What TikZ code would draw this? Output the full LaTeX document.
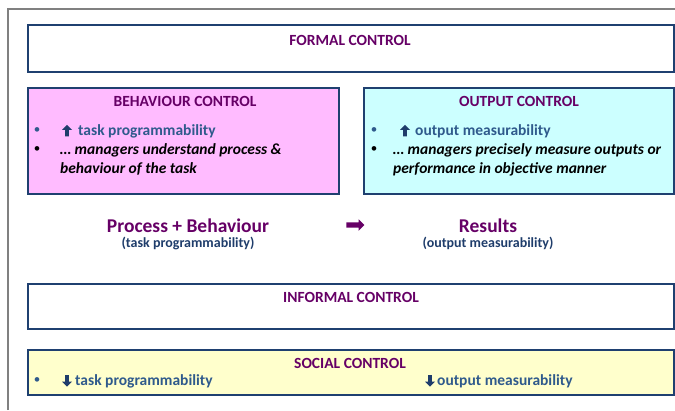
\documentclass[tikz,border=0pt]{standalone}
\usepackage{fontspec}
\usetikzlibrary{shapes.arrows}
\setmainfont{Carlito}
\definecolor{ttl}{HTML}{660066}
\definecolor{bln}{HTML}{2F5A8C}
\definecolor{dbl}{HTML}{1F3D6B}
\definecolor{bord}{HTML}{1F4070}
\definecolor{pinkf}{HTML}{FFBBFF}
\definecolor{cyanf}{HTML}{CCFFFF}
\definecolor{yelf}{HTML}{FFFFCC}
\begin{document}
\begin{tikzpicture}[x=1pt,y=-1pt,
  box/.style={draw=bord,line width=1.6pt,rectangle,anchor=north west,inner sep=0pt},
  title/.style={font=\bfseries\fontsize{15.5}{18}\selectfont,text=ttl,inner sep=0pt},
  bul/.style={font=\fontsize{13}{15}\selectfont,inner sep=0pt,anchor=center},
  bluetxt/.style={font=\bfseries\fontsize{15.5}{18}\selectfont,text=bln,inner sep=0pt,anchor=west},
  ittxt/.style={font=\bfseries\itshape\fontsize{15.5}{18}\selectfont,inner sep=0pt,anchor=west},
  uparr/.style={single arrow,fill=dbl,draw=none,inner sep=1.7pt,minimum height=11.5pt,minimum width=10pt,single arrow head extend=3pt,rotate=90},
  dnarr/.style={uparr,rotate=180},
  midarr/.style={single arrow,fill=ttl,draw=none,inner sep=2.2pt,minimum height=18pt,minimum width=11.5pt,single arrow head extend=3pt},
  big/.style={font=\bfseries\fontsize{19.5}{23}\selectfont,text=ttl,inner sep=0pt},
  small/.style={font=\bfseries\fontsize{14}{16}\selectfont,text=dbl,inner sep=0pt}]
\useasboundingbox (0,0) rectangle (675,410);
\draw[gray,line width=1.5pt] (8,410) -- (8,9) -- (676,9);
% boxes
\node[box,minimum width=646pt,minimum height=47pt] (formal) at (27,24) {};
\node[box,fill=pinkf,minimum width=311pt,minimum height=106pt] (behav) at (27,87) {};
\node[box,fill=cyanf,minimum width=310pt,minimum height=106pt] (output) at (363,87) {};
\node[box,minimum width=646pt,minimum height=45pt] (informal) at (27,283) {};
\node[box,fill=yelf,minimum width=646pt,minimum height=45pt] (social) at (27,349) {};
% titles
\node[title] (tformal) at (350,40) {FORMAL CONTROL};
\node[title] (tbehav) at (185,101) {BEHAVIOUR CONTROL};
\node[title] (toutput) at (519,101) {OUTPUT CONTROL};
\node[title] (tinformal) at (351,297) {INFORMAL CONTROL};
\node[title] (tsocial) at (350,363) {SOCIAL CONTROL};
% behaviour bullets
\node[bul,text=bln] (b1) at (37,131) {•};
\node[uparr] (b1a) at (67,131.5) {};
\node[bluetxt] (b1t) at (78,131) {task programmability};
\node[bul] (b2) at (37,150) {•};
\node[ittxt] (b2t) at (60,150) {… managers understand process \&};
\node[ittxt] (b3t) at (60,169) {behaviour of the task};
% output bullets
\node[bul,text=bln] (o1) at (374,131) {•};
\node[uparr] (o1a) at (405,131.5) {};
\node[bluetxt] (o1t) at (415,131) {output measurability};
\node[bul] (o2) at (374,150) {•};
\node[ittxt] (o2t) at (393,150) {… managers precisely measure outputs or};
\node[ittxt] (o3t) at (393,169) {performance in objective manner};
% middle
\node[big] (proc) at (188,226) {Process + Behaviour};
\node[small] (procs) at (188,243) {(task programmability)};
\node[midarr] (marr) at (354,225) {};
\node[big] (res) at (488,226) {Results};
\node[small] (ress) at (488,243) {(output measurability)};
% social bullets
\node[bul,text=bln] (s1) at (37,381) {•};
\node[dnarr] (s1a) at (67,380) {};
\node[bluetxt] (s1t) at (75,381) {task programmability};
\node[dnarr] (s2a) at (430,380) {};
\node[bluetxt] (s2t) at (437,381) {output measurability};
\end{tikzpicture}
\end{document}
